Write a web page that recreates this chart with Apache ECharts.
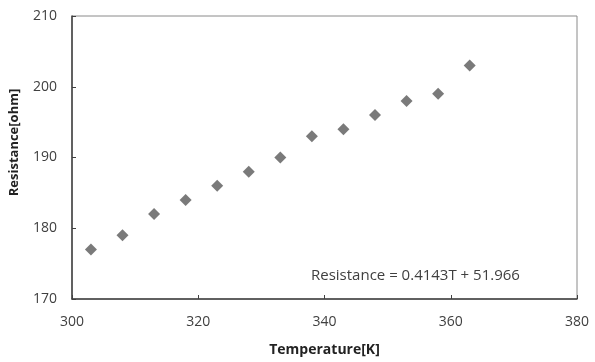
<!DOCTYPE html>
<html><head><meta charset="utf-8">
<script src="https://cdn.jsdelivr.net/npm/echarts@6/dist/echarts.min.js"></script>
<style>html,body{margin:0;padding:0;background:#fff}#c{width:595px;height:362px}</style>
</head><body><div id="c"></div>
<script>
const temperatures = [303, 308, 313, 318, 323, 328, 333, 338, 343, 348, 353, 358, 363];
const resistances = [177, 179, 182, 184, 186, 188, 190, 193, 194, 196, 198, 199, 203];
const xTitle = 'Temperature[K]';
const yTitle = 'Resistance[ohm]';
const equation = 'Resistance = 0.4143T + 51.966';

const chart = echarts.init(document.getElementById('c'));
const font = "'Open Sans', 'Noto Sans', sans-serif";
chart.setOption({
  animation: false,
  grid: {left: 71, right: 18, top: 16, bottom: 58, show: true, borderColor: '#8a8a8a', borderWidth: 1},
  xAxis: {
    type: 'value', min: 300, max: 380, interval: 20,
    name: xTitle, nameLocation: 'middle', nameGap: 44,
    nameTextStyle: {fontFamily: font, fontWeight: 'bold', fontSize: 14, color: '#222'},
    axisLine: {lineStyle: {color: '#404040', width: 1.5}},
    axisTick: {inside: true, length: 4, lineStyle: {color: '#404040'}},
    axisLabel: {fontFamily: font, fontSize: 14, color: '#404040', margin: 16},
    splitLine: {show: false}
  },
  yAxis: {
    type: 'value', min: 170, max: 210, interval: 10,
    name: yTitle, nameLocation: 'middle', nameGap: 51,
    nameTextStyle: {fontFamily: font, fontWeight: 'bold', fontSize: 13, color: '#222', padding: [0, 0, 0, 30]},
    axisLine: {show: true, lineStyle: {color: '#404040', width: 1.5}},
    axisTick: {show: true, inside: true, length: 4, lineStyle: {color: '#404040'}},
    axisLabel: {fontFamily: font, fontSize: 14, color: '#404040', margin: 15},
    splitLine: {show: false}
  },
  graphic: [{
    type: 'text', left: 311, top: 268,
    style: {text: equation, fontFamily: font, fontSize: 15, fill: '#404040'}
  }],
  series: [{
    type: 'scatter',
    data: temperatures.map((t, i) => [t, resistances[i]]),
    symbol: 'diamond', symbolSize: [12, 12],
    itemStyle: {color: '#595959'}
  }]
});
</script></body></html>
